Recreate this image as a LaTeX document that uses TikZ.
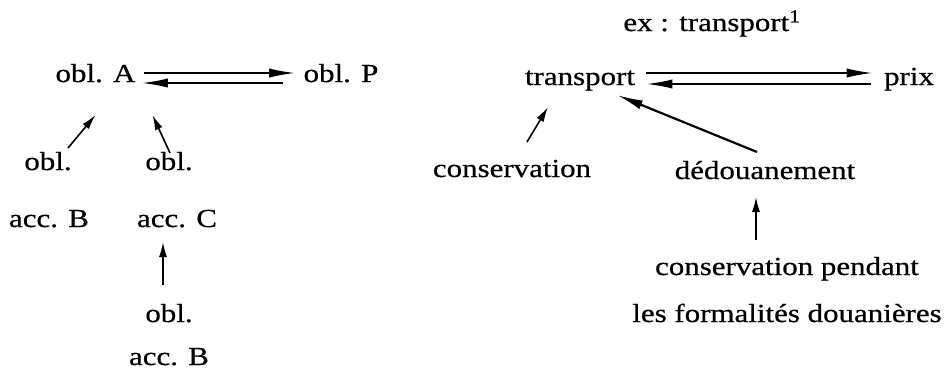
\documentclass[tikz,border=0pt]{standalone}
\usepackage{fontspec}
\setmainfont{Liberation Serif}
% labels: a slightly wider and heavier cut of the serif face
\newfontfamily\lblfont{Liberation Serif}[UprightFeatures={FakeStretch=1.19,FakeBold=0.6}]
\usetikzlibrary{arrows.meta,calc}
\tikzset{
  lbl/.style={inner sep=0pt, anchor=base, font=\lblfont\fontsize{13pt}{15pt}\selectfont},
  longarr/.style={line width=0.9pt, -{Latex[length=13pt,width=4.6pt]}},
  shortarr/.style={line width=0.8pt, -{Latex[length=7.5pt,width=4pt]}},
}
\begin{document}
\begin{tikzpicture}[x=0.5pt,y=-0.5pt]
\useasboundingbox (0,0) rectangle (948,371);

% left diagram
\node[lbl] (oblA) at (95.5,82) {obl. A};
\node[lbl] (oblP) at (341,82) {obl. P};
\node[lbl] (o1) at (48,170) {obl.};
\node[lbl] (b1) at (49,227) {acc. B};
\node[lbl] (o2) at (169,170) {obl.};
\node[lbl] (c2) at (177,227) {acc. C};
\node[lbl] (o3) at (169,322) {obl.};
\node[lbl] (b3) at (169,365) {acc. B};

\draw[longarr] ($(oblA.base east)+(8,-9)$) -- ($(oblP.base west)+(-8,-9)$);
\draw[longarr] ($(oblP.base west)+(-20,1)$) -- ($(oblA.base east)+(6,1)$);
\draw[shortarr] ($(o1.base)+(20,-22)$) -- ($(oblA.base)+(0,33)$);
\draw[shortarr] ($(o2.base)+(1,-17)$) -- ($(oblA.base)+(57,33)$);
\draw[shortarr] ($(o3.base)+(-6,-37)$) -- ($(c2.base)+(-14,15)$);

% right diagram
\node[lbl, anchor=base west] (ex) at (623,31) {ex : transport\textsuperscript{1}};
\node[lbl] (tr) at (580,85) {transport};
\node[lbl] (prix) at (909,85) {prix};
\node[lbl] (cons) at (512,177) {conservation};
\node[lbl] (ded) at (765,179) {dédouanement};
\node[lbl] (cp) at (787,275) {conservation pendant};
\node[lbl] (lf) at (787,322) {les formalités douanières};

\draw[longarr] ($(tr.base east)+(11,-12)$) -- ($(prix.base west)+(-11,-12)$);
\draw[longarr] ($(prix.base west)+(-13,-1)$) -- ($(tr.base east)+(11,-1)$);
\draw[shortarr] ($(cons.base)+(15,-35)$) -- ($(tr.base)+(-32,22)$);
\draw[longarr, line width=1.1pt] ($(ded.base)+(-8,-27)$) -- ($(tr.base)+(37,10)$);
\draw[shortarr, line width=0.7pt] ($(cp.base)+(-31,-35)$) -- ($(ded.base)+(-9,18)$);
\end{tikzpicture}
\end{document}
